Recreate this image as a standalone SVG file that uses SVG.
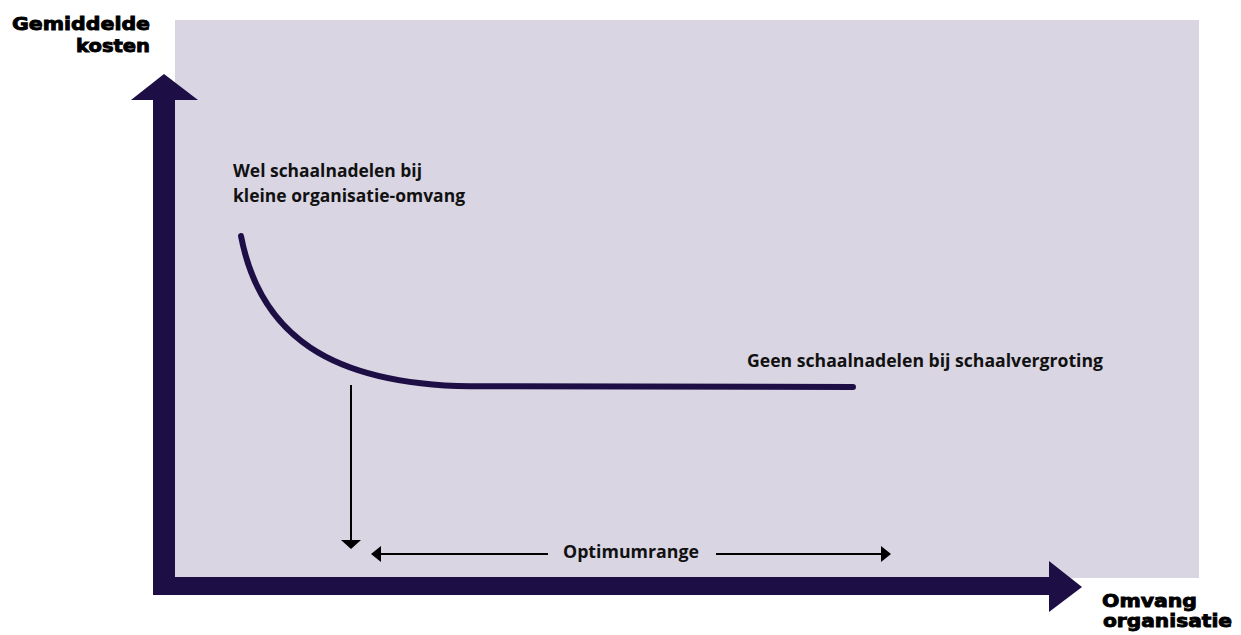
<svg xmlns="http://www.w3.org/2000/svg" width="1241" height="635" viewBox="0 0 1241 635">
  <defs>
    <style>
      .axis { fill: #1d0e45; }
      .curve { fill: none; stroke: #1d0f45; stroke-width: 6; stroke-linecap: round; }
      .thin { stroke: #000; stroke-width: 2; fill: none; }
      .lbl { font-family: "Open Sans", "Liberation Sans", sans-serif; font-weight: 700; font-size: 17px; fill: #111; }
      .ax { font-family: "DejaVu Sans", "Liberation Sans", sans-serif; font-weight: 900; font-size: 18px; fill: #000; stroke: #000; stroke-width: 0.9; }
    </style>
  </defs>
  <rect x="0" y="0" width="1241" height="635" fill="#fff"/>
  <g id="plot-area">
    <rect x="175" y="20" width="1024" height="558" fill="#d9d5e3"/>
  </g>
  <g id="y-axis">
    <rect class="axis" x="153" y="99" width="22" height="496"/>
    <polygon class="axis" points="131,100 164,74 198,100"/>
    <text class="ax" x="150" y="30" text-anchor="end" textLength="138" lengthAdjust="spacingAndGlyphs">Gemiddelde</text>
    <text class="ax" x="150" y="52" text-anchor="end" textLength="74" lengthAdjust="spacingAndGlyphs">kosten</text>
  </g>
  <g id="x-axis">
    <rect class="axis" x="153" y="577" width="897" height="18"/>
    <polygon class="axis" points="1049,561 1082,587 1049,612"/>
    <text class="ax" x="1102" y="607" textLength="95" lengthAdjust="spacingAndGlyphs">Omvang</text>
    <text class="ax" x="1103" y="627" textLength="129" lengthAdjust="spacingAndGlyphs">organisatie</text>
  </g>
  <g id="curve">
    <path class="curve" d="M241,236 C260,335 330,384 470,386.3 L853,387"/>
  </g>
  <g id="label-small">
    <text class="lbl" x="233" y="177" textLength="189" lengthAdjust="spacingAndGlyphs">Wel schaalnadelen bij</text>
    <text class="lbl" x="233" y="202" textLength="232" lengthAdjust="spacingAndGlyphs">kleine organisatie-omvang</text>
  </g>
  <g id="label-large">
    <text class="lbl" x="747" y="367" textLength="356" lengthAdjust="spacingAndGlyphs">Geen schaalnadelen bij schaalvergroting</text>
  </g>
  <g id="connectors">
    <line class="thin" x1="351" y1="385" x2="351" y2="541"/>
    <polygon points="341,540 361,540 351,549" fill="#000"/>
    <line class="thin" x1="378" y1="554" x2="548" y2="554"/>
    <polygon points="371,554 381,546 381,562" fill="#000"/>
    <line class="thin" x1="716" y1="554" x2="883" y2="554"/>
    <polygon points="891,554 881,546 881,562" fill="#000"/>
  </g>
  <g id="optimum">
    <text class="lbl" x="563" y="558" textLength="136" lengthAdjust="spacingAndGlyphs">Optimumrange</text>
  </g>
</svg>
